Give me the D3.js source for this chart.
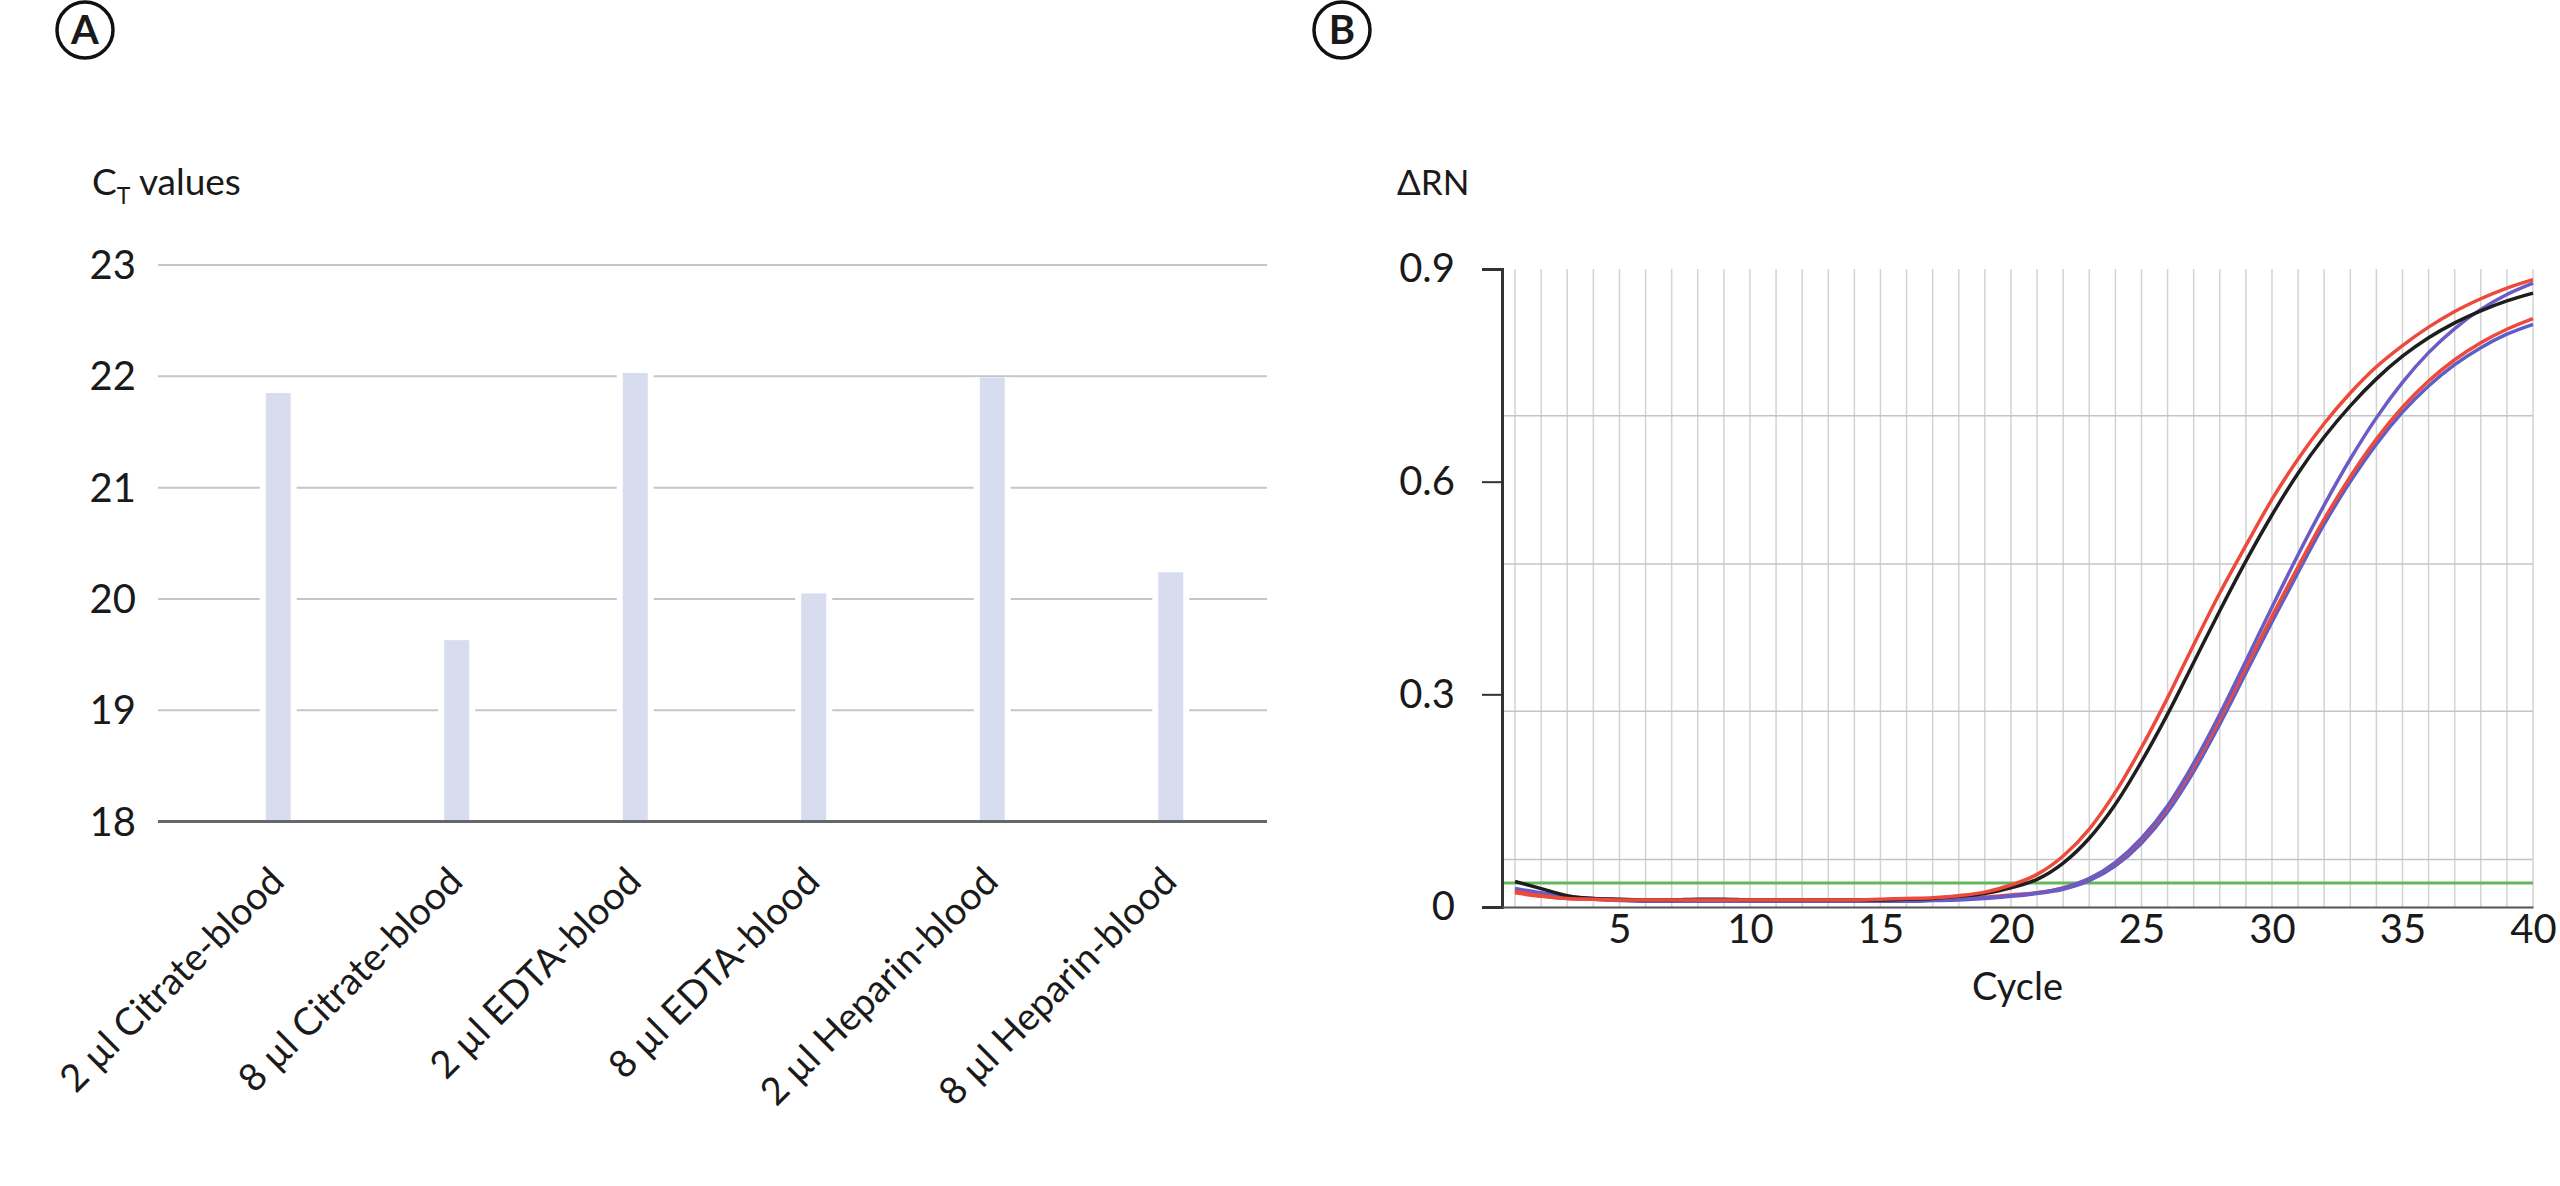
<!DOCTYPE html>
<html>
<head>
<meta charset="utf-8">
<script src="https://cdn.jsdelivr.net/npm/d3@7"></script>
<style>
  body { margin: 0; background: #fff; }
  text { font-family: Lato, "Noto Sans", sans-serif; fill: #1a1a1a; }
</style>
</head>
<body>
<script>
// panel A: CT values per sample
var sampleLabels = ["2 µl Citrate-blood", "8 µl Citrate-blood", "2 µl EDTA-blood",
                    "8 µl EDTA-blood", "2 µl Heparin-blood", "8 µl Heparin-blood"];
var ctValues = [21.85, 19.63, 22.03, 20.05, 21.99, 20.24];
var ctTicks = [18, 19, 20, 21, 22, 23];

// panel B: amplification plot, one value per cycle (1..40)
var cycleTicks = [5, 10, 15, 20, 25, 30, 35, 40];
var rnTicks = [0, 0.3, 0.6, 0.9];
var rnGrid = [0.067, 0.276, 0.484, 0.693];
var threshold = 0.034;
var red1 = [0.022,0.016,0.012,0.011,0.010,0.010,0.010,0.010,0.010,0.010,0.010,0.010,0.010,0.010,0.011,
            0.012,0.013,0.016,0.021,0.031,0.046,0.072,0.11,0.162,0.225,0.295,0.37,0.443,0.51,0.575,
            0.632,0.682,0.725,0.762,0.792,0.818,0.84,0.858,0.873,0.885];
var black = [0.036,0.026,0.016,0.012,0.011,0.010,0.010,0.011,0.011,0.010,0.010,0.010,0.010,0.010,0.010,
             0.011,0.012,0.015,0.019,0.027,0.039,0.062,0.097,0.145,0.205,0.272,0.345,0.418,0.488,0.553,
             0.612,0.663,0.707,0.745,0.777,0.803,0.824,0.841,0.855,0.866];
var red2 = [0.020,0.015,0.012,0.011,0.010,0.010,0.010,0.010,0.010,0.010,0.010,0.010,0.010,0.010,0.010,
            0.010,0.011,0.012,0.014,0.017,0.02,0.027,0.04,0.062,0.095,0.14,0.198,0.265,0.338,0.41,
            0.48,0.547,0.607,0.66,0.705,0.742,0.772,0.796,0.815,0.83];
var blue1 = [0.026,0.020,0.015,0.012,0.010,0.009,0.009,0.009,0.009,0.009,0.009,0.009,0.009,0.009,0.009,
             0.009,0.010,0.011,0.013,0.016,0.02,0.027,0.04,0.063,0.097,0.143,0.203,0.272,0.347,0.423,
             0.497,0.567,0.632,0.69,0.74,0.782,0.816,0.843,0.864,0.88];
var blue2 = [0.024,0.019,0.014,0.011,0.009,0.008,0.008,0.008,0.008,0.008,0.008,0.008,0.008,0.008,0.008,
             0.008,0.009,0.010,0.012,0.015,0.019,0.025,0.037,0.058,0.09,0.134,0.191,0.258,0.33,0.402,
             0.472,0.54,0.6,0.653,0.698,0.735,0.765,0.789,0.808,0.822];

var curves = [
  {name: "blue2", values: blue2, color: "#5b5fc7"},
  {name: "red2", values: red2, color: "#ee4a3c"},
  {name: "blue1", values: blue1, color: "#6a5cc4"},
  {name: "black", values: black, color: "#1e1e1e"},
  {name: "red1", values: red1, color: "#ee4a3c"}
];

var svg = d3.select("body").append("svg")
  .attr("width", 2560).attr("height", 1186);

// circled panel letters
function panelLetter(cx, cy, letter) {
  var g = svg.append("g");
  g.append("circle").attr("cx", cx).attr("cy", cy).attr("r", 28)
    .attr("fill", "none").attr("stroke", "#111").attr("stroke-width", 3.5);
  g.append("text").attr("x", cx).attr("y", cy + 14)
    .attr("text-anchor", "middle").style("font-size", "40px").style("font-weight", "bold")
    .text(letter);
}
panelLetter(85, 30, "A");
panelLetter(1342, 30, "B");

/* ---------- panel A ---------- */
var yA = d3.scaleLinear().domain([18, 23]).range([821.6, 265]);
var xA = d3.scaleBand().domain(sampleLabels).range([189, 1260])
  .paddingInner(0.86).paddingOuter(0.43);
var gA = svg.append("g");

gA.selectAll(".grid").data(ctTicks.slice(1)).enter().append("line")
  .attr("x1", 158).attr("x2", 1267)
  .attr("y1", function(d) { return yA(d); }).attr("y2", function(d) { return yA(d); })
  .attr("stroke", "#c6c6c9").attr("stroke-width", 2);

// white gap round each bar, cuts the gridlines
gA.selectAll(".gap").data(ctValues).enter().append("rect")
  .attr("x", function(d, i) { return xA(sampleLabels[i]) - 6; })
  .attr("width", xA.bandwidth() + 12)
  .attr("y", function(d) { return yA(d); })
  .attr("height", function(d) { return yA(18) - yA(d); })
  .attr("fill", "#fff");

gA.selectAll(".bar").data(ctValues).enter().append("rect")
  .attr("x", function(d, i) { return xA(sampleLabels[i]); })
  .attr("width", xA.bandwidth())
  .attr("y", function(d) { return yA(d); })
  .attr("height", function(d) { return yA(18) - yA(d); })
  .attr("fill", "#d7ddee");

gA.append("line").attr("x1", 158).attr("x2", 1267)
  .attr("y1", yA(18)).attr("y2", yA(18))
  .attr("stroke", "#66676b").attr("stroke-width", 3);

gA.selectAll(".ytick").data(ctTicks).enter().append("text")
  .attr("x", 136).attr("y", function(d) { return yA(d) + 14; })
  .attr("text-anchor", "end").style("font-size", "40px")
  .text(function(d) { return d; });

var ctTitle = gA.append("text").attr("x", 92).attr("y", 195).style("font-size", "37px");
ctTitle.append("tspan").text("C");
ctTitle.append("tspan").attr("dy", 9).style("font-size", "23px").text("T");
ctTitle.append("tspan").attr("dy", -9).text(" values");

gA.selectAll(".xlab").data(sampleLabels).enter().append("text")
  .attr("text-anchor", "end").style("font-size", "38px")
  .attr("transform", function(d) {
    var x = xA(d) + xA.bandwidth() / 2 + 8;
    return "translate(" + x + "," + (yA(18) + 62) + ") rotate(-45)";
  })
  .text(function(d) { return d; });

/* ---------- panel B ---------- */
var xB = d3.scaleLinear().domain([0.5, 40]).range([1502, 2533]);
var yB = d3.scaleLinear().domain([0, 0.9]).range([907, 269]);
var gB = svg.append("g");

gB.selectAll(".vgrid").data(d3.range(1, 41)).enter().append("line")
  .attr("x1", function(d) { return xB(d); }).attr("x2", function(d) { return xB(d); })
  .attr("y1", yB(0.9)).attr("y2", yB(0))
  .attr("stroke", "#d3d3d3").attr("stroke-width", 1.5);

gB.selectAll(".hgrid").data(rnGrid).enter().append("line")
  .attr("x1", xB(0.5)).attr("x2", xB(40))
  .attr("y1", function(d) { return yB(d); }).attr("y2", function(d) { return yB(d); })
  .attr("stroke", "#c4c4c4").attr("stroke-width", 1.5);

gB.append("line").attr("x1", xB(0.5)).attr("x2", xB(40))
  .attr("y1", yB(threshold)).attr("y2", yB(threshold))
  .attr("stroke", "#62b85a").attr("stroke-width", 3);

var line = d3.line()
  .x(function(d, i) { return xB(i + 1); })
  .y(function(d) { return yB(d); })
  .curve(d3.curveMonotoneX);

gB.selectAll(".curve").data(curves).enter().append("path")
  .attr("d", function(d) { return line(d.values); })
  .attr("fill", "none")
  .attr("stroke", function(d) { return d.color; })
  .attr("stroke-width", 3.5);

var yAxis = d3.axisLeft(yB).tickValues(rnTicks).tickSize(20).tickPadding(27)
  .tickFormat(function(d) { return d === 0 ? "0" : d3.format(".1f")(d); });
var gy = gB.append("g").attr("transform", "translate(1502,0)").call(yAxis);
gy.select(".domain").attr("stroke", "#333").attr("stroke-width", 3);
gy.selectAll(".tick line").attr("stroke", "#333").attr("stroke-width", 2);
gy.selectAll(".tick text").style("font-size", "40px").attr("fill", "#1a1a1a");

var xAxis = d3.axisBottom(xB).tickValues(cycleTicks).tickSize(0).tickPadding(8);
var gx = gB.append("g").attr("transform", "translate(0,907)").call(xAxis);
gx.select(".domain").attr("stroke", "#555").attr("stroke-width", 2);
gx.selectAll(".tick text").style("font-size", "40px").attr("fill", "#1a1a1a");

gB.append("text").attr("x", 1397).attr("y", 195).style("font-size", "35px").text("ΔRN");
gB.append("text").attr("x", (xB(0.5) + xB(40)) / 2).attr("y", 1000)
  .attr("text-anchor", "middle").style("font-size", "38px").text("Cycle");
</script>
</body>
</html>
